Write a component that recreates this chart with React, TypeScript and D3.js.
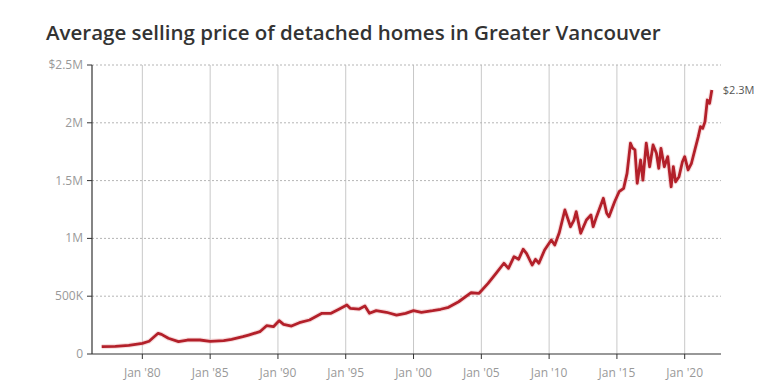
import { useEffect } from "react";
import * as d3 from "d3";

// Average detached price, Greater Vancouver (thousands of $)
const dates = [
  "1977-01", "1978-01", "1979-01", "1980-01", "1980-07", "1981-03", "1981-06", "1981-12",
  "1982-09", "1983-05", "1984-04", "1985-01", "1986-01", "1986-08", "1987-06", "1987-11",
  "1988-09", "1989-03", "1989-09", "1990-02", "1990-06", "1991-01", "1991-08", "1992-05",
  "1993-04", "1993-12", "1994-07", "1995-02", "1995-05", "1996-01", "1996-06", "1996-10",
  "1997-04", "1998-01", "1998-10", "1999-06", "2000-01", "2000-08", "2001-06", "2002-01",
  "2002-08", "2003-05", "2004-04", "2004-11", "2005-07", "2006-02", "2006-09", "2007-01",
  "2007-06", "2007-10", "2008-02", "2008-05", "2008-10", "2009-01", "2009-04", "2009-09",
  "2010-03", "2010-06", "2010-10", "2011-03", "2011-05", "2011-08", "2011-11", "2012-01",
  "2012-05", "2012-10", "2013-02", "2013-04", "2013-07", "2014-01", "2014-04", "2014-06",
  "2014-11", "2015-03", "2015-07", "2015-10", "2016-01", "2016-03", "2016-05", "2016-07",
  "2016-10", "2016-12", "2017-03", "2017-06", "2017-09", "2017-12", "2018-02", "2018-04",
  "2018-07", "2018-10", "2019-01", "2019-03", "2019-05", "2019-08", "2019-11", "2020-01",
  "2020-04", "2020-07", "2020-10", "2021-01", "2021-03", "2021-05", "2021-07", "2021-09",
  "2021-11", "2022-01",
];
const prices = [
  63, 66, 75, 92, 110, 179, 170, 136,
  107, 121, 121, 110, 116, 127, 150, 164,
  193, 245, 236, 288, 257, 242, 271, 294,
  352, 352, 387, 424, 395, 389, 415, 352,
  375, 361, 337, 352, 375, 361, 375, 387,
  404, 452, 530, 525, 611, 698, 785, 741,
  842, 819, 906, 871, 770, 819, 785, 900,
  986, 943, 1049, 1246, 1188, 1101, 1159, 1231,
  1044, 1159, 1202, 1101, 1188, 1347, 1217, 1188,
  1317, 1404, 1433, 1563, 1823, 1780, 1765, 1477,
  1678, 1505, 1823, 1620, 1808, 1736, 1606, 1779,
  1620, 1707, 1447, 1620, 1490, 1534, 1663, 1707,
  1592, 1650, 1765, 1880, 1966, 1952, 2010, 2197,
  2168, 2284,
];

const yTicks = [0, 500000, 1000000, 1500000, 2000000, 2500000];
const yTickLabels = ["0", "500K", "1M", "1.5M", "2M", "$2.5M"];
const xTickYears = [1980, 1985, 1990, 1995, 2000, 2005, 2010, 2015, 2020];
const endLabel = "$2.3M";
const title = "Average selling price of detached homes in Greater Vancouver";

const W = 771;
const H = 391;
const margin = { top: 65, right: 50, bottom: 37, left: 92 };
const font = "'Open Sans', sans-serif";

export default function App() {
  useEffect(() => {
    document.body.style.margin = "0";
  }, []);

  const parse = d3.timeParse("%Y-%m");
  const data = dates.map((d, i) => ({ date: parse(d) as Date, value: prices[i] * 1000 }));

  const x = d3
    .scaleTime()
    .domain([new Date(1976, 3, 15), new Date(2022, 8, 5)])
    .range([margin.left, W - margin.right]);
  const y = d3.scaleLinear().domain([0, 2500000]).range([H - margin.bottom, margin.top]);

  const line = d3
    .line<{ date: Date; value: number }>()
    .x((d) => x(d.date))
    .y((d) => y(d.value))
    .curve(d3.curveLinear);

  const last = data[data.length - 1];
  const x0 = margin.left;
  const x1 = W - margin.right;
  const yBottom = y(0);
  const yTop = y(2500000);

  return (
    <svg width={W} height={H} style={{ display: "block" }}>
      <text x={46} y={40} fontFamily={font} fontWeight={600} fontSize={20.5} fill="#333">
        {title}
      </text>

      {/* vertical gridlines */}
      {xTickYears.map((yr) => {
        const px = x(new Date(yr, 0, 1));
        return (
          <g key={yr}>
            <line x1={px} x2={px} y1={yTop} y2={yBottom} stroke="#c8c8c8" strokeWidth={1} />
            <line x1={px} x2={px} y1={yBottom} y2={yBottom + 5} stroke="#333" strokeWidth={1} />
            <text x={px} y={377} textAnchor="middle" fontFamily={font} fontSize={12} fill="#999">
              {`Jan '${String(yr).slice(2)}`}
            </text>
          </g>
        );
      })}

      {/* horizontal gridlines */}
      {yTicks.map((t, i) => (
        <g key={t}>
          {t > 0 && (
            <line x1={x0} x2={x1} y1={y(t)} y2={y(t)} stroke="#b5b5b5" strokeWidth={1} strokeDasharray="2,2" />
          )}
          <line x1={x0 - 5} x2={x0} y1={y(t)} y2={y(t)} stroke="#333" strokeWidth={1} />
          <text x={x0 - 9} y={y(t) + 4} textAnchor="end" fontFamily={font} fontSize={12} fill="#999">
            {yTickLabels[i]}
          </text>
        </g>
      ))}

      {/* axes */}
      <line x1={x0} x2={x0} y1={yTop} y2={yBottom} stroke="#333" strokeWidth={1.2} />
      <line x1={x0} x2={x1} y1={yBottom} y2={yBottom} stroke="#333" strokeWidth={1.2} />

      {/* series */}
      <path d={line(data) ?? ""} fill="none" stroke="#e8a0a4" strokeOpacity={0.35} strokeWidth={5} strokeLinejoin="round" />
      <path d={line(data) ?? ""} fill="none" stroke="#b3202a" strokeWidth={2.8} strokeLinejoin="round" />

      <text x={x(last.date) + 11} y={y(last.value) + 4} fontFamily={font} fontSize={11} fill="#555">
        {endLabel}
      </text>
    </svg>
  );
}
